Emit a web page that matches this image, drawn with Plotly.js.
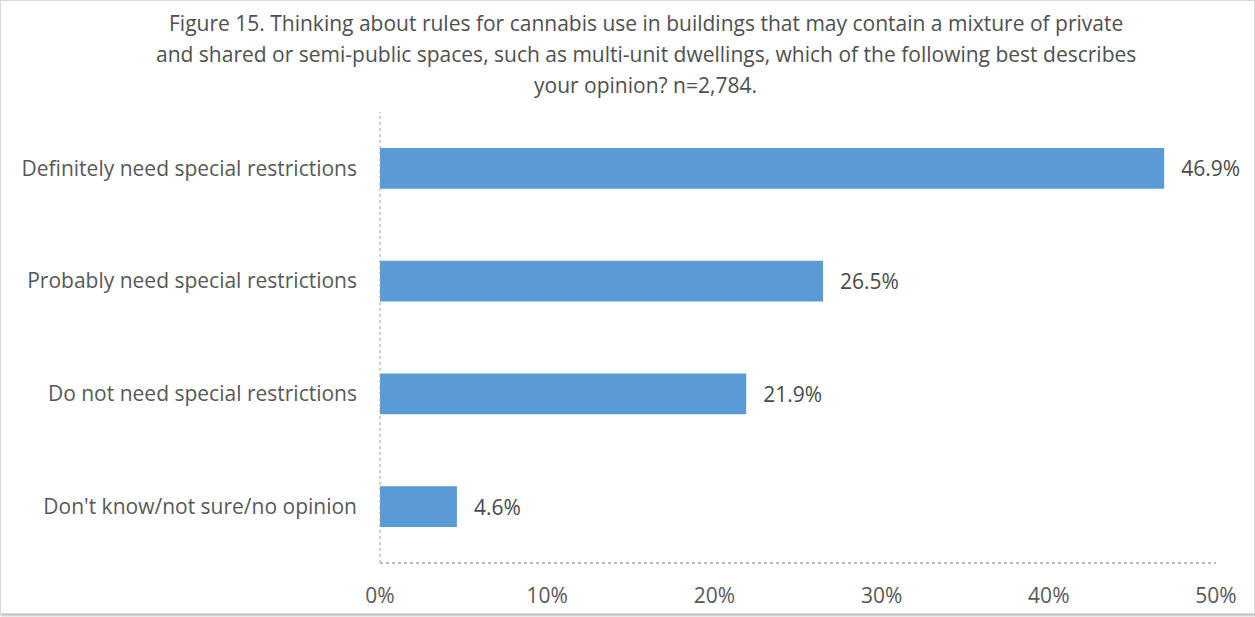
<!DOCTYPE html>
<html><head><meta charset="utf-8">
<script src="https://cdn.plot.ly/plotly-3.0.1.min.js"></script>
<style>
html,body{margin:0;padding:0;background:#fff;}
#frame{position:absolute;left:0;top:0;width:1253px;height:612px;border:1px solid #d9d9d9;box-shadow:1px 2px 2px #bfbfbf;}
#chart{width:1253px;height:612px;}
</style></head>
<body><div id="frame"><div id="chart"></div></div>
<script>
var categories = ["Definitely need special restrictions","Probably need special restrictions","Do not need special restrictions","Don't know/not sure/no opinion"];
var values = [46.9, 26.5, 21.9, 4.6];
var tickVals = [0,10,20,30,40,50];
var tickText = ["0%","10%","20%","30%","40%","50%"];
var titleLines = [
  "Figure 15. Thinking about rules for cannabis use in buildings that may contain a mixture of private",
  "and shared or semi-public spaces, such as multi-unit dwellings, which of the following best describes",
  "your opinion? n=2,784."
];

var font = "'Open Sans', sans-serif";
var trace = {
  type:'bar', orientation:'h',
  y: categories, x: values,
  marker:{color:'#5b9bd5'},
  width:0.36,
  text: values.map(function(v){return '\u2002\u2009' + v.toFixed(1)+'%';}),
  textposition:'outside', cliponaxis:false,
  textfont:{family:font,size:21,color:'#4a4a4a'},
  hoverinfo:'none'
};
var plotH = 612 - 111 - 50;
var titleAnn = titleLines.map(function(t,i){
  var ypx = 22 + i*31; // centre of each line, px from top
  return {text:t, xref:'paper', yref:'paper', x:0.318, xanchor:'center',
          y:1 + (111 - ypx)/plotH, yanchor:'middle', showarrow:false,
          font:{family:font,size:21,color:'#505050'}};
});
var layout = {
  width:1253, height:612,
  margin:{l:379,r:38,t:111,b:50},
  paper_bgcolor:'#fff', plot_bgcolor:'#fff',
  showlegend:false,
  bargap:0.64,
  font:{family:font,size:21,color:'#595959'},
  xaxis:{range:[0,50], tickvals:tickVals, ticktext:tickText, showgrid:false, zeroline:false,
         showline:false, ticks:'', ticklabelstandoff:18, tickfont:{size:21,color:'#595959'}, fixedrange:true},
  yaxis:{autorange:'reversed', showgrid:false, zeroline:false, showline:false, ticks:'',
         ticklabelstandoff:22, tickfont:{size:21,color:'#595959'}, fixedrange:true},
  annotations:titleAnn,
  shapes:[
    {type:'line', xref:'paper', yref:'paper', x0:0, x1:0, y0:0, y1:1, line:{color:'#a6a6a6', width:1, dash:'dot'}},
    {type:'line', xref:'paper', yref:'paper', x0:0, x1:1, y0:0, y1:0, line:{color:'#a6a6a6', width:1.5, dash:'dot'}}
  ]
};
Plotly.newPlot('chart',[trace],layout,{displayModeBar:false,staticPlot:true});
</script></body></html>
